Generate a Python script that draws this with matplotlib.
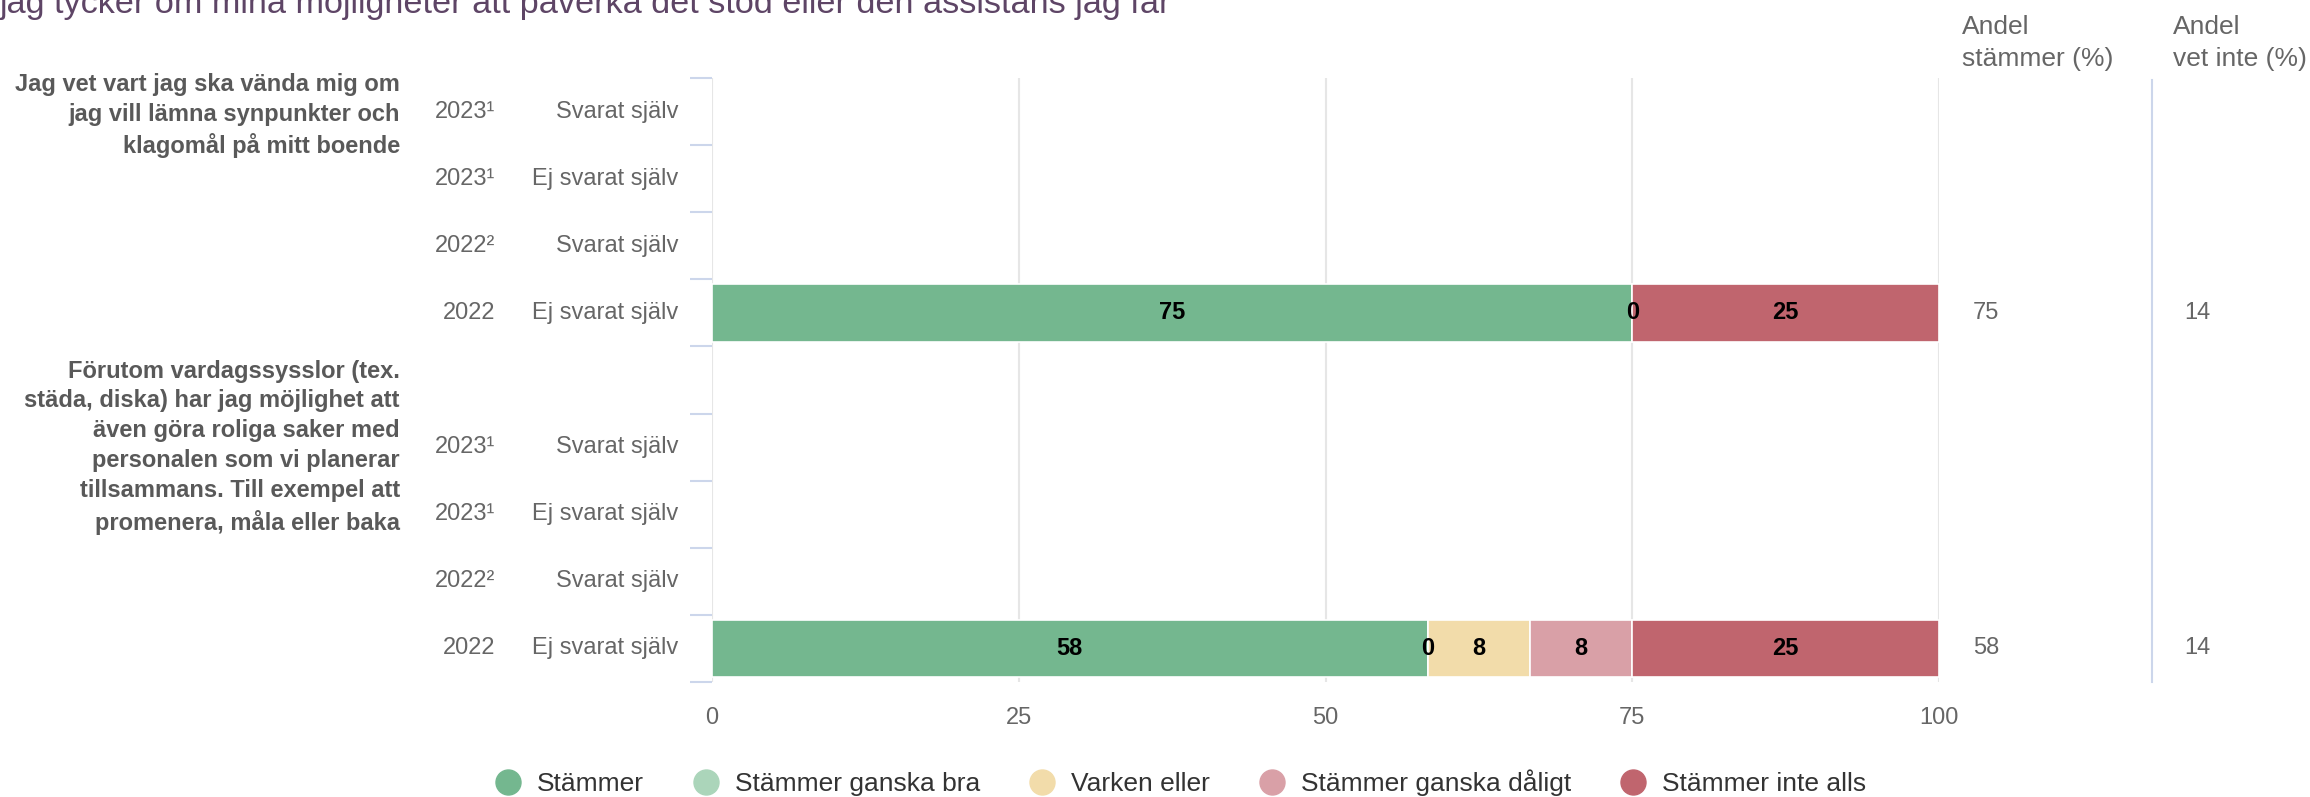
import numpy as np
import matplotlib
matplotlib.use('Agg')
import matplotlib.pyplot as plt
import matplotlib.transforms as mtransforms
from matplotlib.lines import Line2D

plt.rcParams['font.family'] = ['Liberation Sans', 'DejaVu Sans']

title = 'jag tycker om mina möjligheter att påverka det stöd eller den assistans jag får'
questions = ['Jag vet vart jag ska vända mig om\njag vill lämna synpunkter och\nklagomål på mitt boende',
             'Förutom vardagssysslor (tex.\nstäda, diska) har jag möjlighet att\näven göra roliga saker med\n'
             'personalen som vi planerar\ntillsammans. Till exempel att\npromenera, måla eller baka']
question_rows = [0, 5]
years = ['2023¹', '2023¹', '2022²', '2022', '', '2023¹', '2023¹', '2022²', '2022']
groups = ['Svarat själv', 'Ej svarat själv', 'Svarat själv', 'Ej svarat själv', '',
          'Svarat själv', 'Ej svarat själv', 'Svarat själv', 'Ej svarat själv']
nan = np.nan
stammer = [nan, nan, nan, 75, nan, nan, nan, nan, 58.33]
ganska_bra = [nan, nan, nan, 0, nan, nan, nan, nan, 0]
varken = [nan, nan, nan, nan, nan, nan, nan, nan, 8.33]
ganska_daligt = [nan, nan, nan, nan, nan, nan, nan, nan, 8.33]
inte_alls = [nan, nan, nan, 25, nan, nan, nan, nan, 25]
andel_stammer = ['', '', '', '75', '', '', '', '', '58']
andel_vet_inte = ['', '', '', '14', '', '', '', '', '14']
categories = ['Stämmer', 'Stämmer ganska bra', 'Varken eller', 'Stämmer ganska dåligt', 'Stämmer inte alls']
colors = ['#74b78f', '#abd5ba', '#f2dcaa', '#d9a0a7', '#c0656e']
xticks = [0, 25, 50, 75, 100]

W, H = 2310, 797
fig = plt.figure(figsize=(W / 100, H / 100), dpi=100)
ax = fig.add_axes([712 / W, 1 - 682 / H, (1939 - 712) / W, (682 - 78) / H])

n = len(years)
y = np.arange(n)
left = np.zeros(n)
for vals, col in zip([stammer, ganska_bra, varken, ganska_daligt, inte_alls], colors):
    vals = np.array(vals, dtype=float)
    ok = ~np.isnan(vals)
    ax.barh(y[ok], vals[ok], left=left[ok], height=0.86, color=col,
            edgecolor='white', linewidth=1.2, zorder=3)
    for yi, v, l in zip(y[ok], vals[ok], left[ok]):
        ax.text(l + v / 2, yi, f'{v:.0f}', ha='center', va='center',
                fontsize=17, fontweight='bold', color='#000000', zorder=4)
    left[ok] += vals[ok]

ax.set_xlim(0, 100)
ax.set_ylim(n - 0.5, -0.5)
ax.set_xticks(xticks)
ax.set_xticklabels([str(t) for t in xticks], fontsize=17, color='#666666')
ax.set_yticks(np.arange(n + 1) - 0.5)
ax.set_yticklabels([])
ax.tick_params(axis='x', length=0, pad=18)
ax.tick_params(axis='y', length=16, width=1.5, color='#ccd6eb', direction='out')
ax.grid(axis='x', color='#e6e6e6', linewidth=1.5, zorder=0)
for s in ax.spines.values():
    s.set_visible(False)

trans = mtransforms.blended_transform_factory(fig.transFigure, ax.transData)
for yi, (yr, g) in enumerate(zip(years, groups)):
    fig.text(495 / W, yi, yr, transform=trans, ha='right', va='center', fontsize=17, color='#666666')
    fig.text(678 / W, yi, g, transform=trans, ha='right', va='center', fontsize=17, color='#666666')
    fig.text(1973 / W, yi, andel_stammer[yi], transform=trans, ha='left', va='center', fontsize=17, color='#666666')
    fig.text(2184 / W, yi, andel_vet_inte[yi], transform=trans, ha='left', va='center', fontsize=17, color='#666666')

offsets = [0.06, 0.0]
for q, r, off in zip(questions, question_rows, offsets):
    fig.text(400 / W, r + off, q, transform=trans, ha='right', va='center', fontsize=17,
             fontweight='bold', color='#595959', linespacing=1.38)

fig.text(1962 / W, 1 - 43 / H, 'Andel\nstämmer (%)', ha='left', va='center', fontsize=19,
         color='#666666', linespacing=1.4)
fig.text(2173 / W, 1 - 43 / H, 'Andel\nvet inte (%)', ha='left', va='center', fontsize=19,
         color='#666666', linespacing=1.4)
fig.add_artist(Line2D([2152 / W] * 2, [1 - 80 / H, 1 - 682 / H], color='#ccd6eb', linewidth=1.5))

fig.text(0.0, 1 - 13 / H, title, ha='left', va='baseline', fontsize=24.7, color='#5e4566')

handles = [Line2D([], [], marker='o', linestyle='', markersize=18, markerfacecolor=c, markeredgecolor=c)
           for c in colors]
fig.legend(handles, categories, loc='center', bbox_to_anchor=(0.511, 1 - 783 / H), ncol=5,
           frameon=False, fontsize=19, handletextpad=0.6, columnspacing=1.85, handlelength=1.0,
           labelcolor='#333333')

fig.savefig('out.png', dpi=100)
